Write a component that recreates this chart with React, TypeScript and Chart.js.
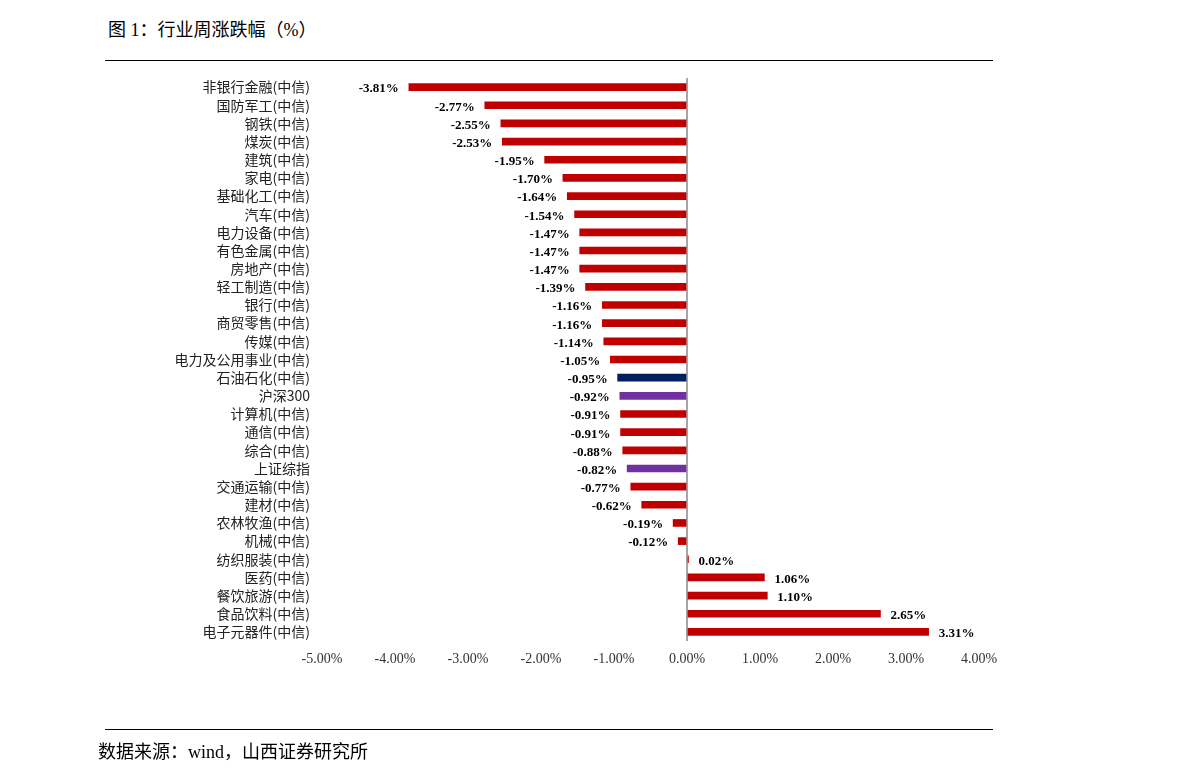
import React, { useEffect, useRef } from "react";
import { Chart, registerables } from "chart.js";

Chart.register(...registerables);

const categories: string[] = [
  "非银行金融(中信)", "国防军工(中信)", "钢铁(中信)", "煤炭(中信)", "建筑(中信)",
  "家电(中信)", "基础化工(中信)", "汽车(中信)", "电力设备(中信)", "有色金属(中信)",
  "房地产(中信)", "轻工制造(中信)", "银行(中信)", "商贸零售(中信)", "传媒(中信)",
  "电力及公用事业(中信)", "石油石化(中信)", "沪深300", "计算机(中信)", "通信(中信)",
  "综合(中信)", "上证综指", "交通运输(中信)", "建材(中信)", "农林牧渔(中信)",
  "机械(中信)", "纺织服装(中信)", "医药(中信)", "餐饮旅游(中信)", "食品饮料(中信)",
  "电子元器件(中信)",
];

const values: number[] = [
  -3.81, -2.77, -2.55, -2.53, -1.95,
  -1.70, -1.64, -1.54, -1.47, -1.47,
  -1.47, -1.39, -1.16, -1.16, -1.14,
  -1.05, -0.95, -0.92, -0.91, -0.91,
  -0.88, -0.82, -0.77, -0.62, -0.19,
  -0.12, 0.02, 1.06, 1.10, 2.65,
  3.31,
];

const xTicks: number[] = [-5, -4, -3, -2, -1, 0, 1, 2, 3, 4];

const RED = "#C00000";
const NAVY = "#002060";
const PURPLE = "#7030A0";

const barColor = (cat: string): string => {
  if (cat.startsWith("石油石化")) return NAVY;
  if (cat === "沪深300" || cat === "上证综指") return PURPLE;
  return RED;
};

const valueLabelPlugin = {
  id: "valueLabels",
  afterDatasetsDraw(chart: any) {
    const ctx = chart.ctx;
    const meta = chart.getDatasetMeta(0);
    ctx.save();
    ctx.font = "bold 13px 'Liberation Serif', 'Times New Roman', serif";
    ctx.fillStyle = "#000";
    ctx.textBaseline = "middle";
    meta.data.forEach((bar: any, i: number) => {
      const v = values[i];
      const txt = v.toFixed(2) + "%";
      if (v < 0) {
        ctx.textAlign = "right";
        ctx.fillText(txt, bar.x - 10, bar.y + 2);
      } else {
        ctx.textAlign = "left";
        ctx.fillText(txt, bar.x + 10, bar.y + 2);
      }
    });
    ctx.restore();
  },
};

function BarChart() {
  const ref = useRef<HTMLCanvasElement | null>(null);
  useEffect(() => {
    if (!ref.current) return;
    const chart = new Chart(ref.current, {
      type: "bar",
      data: {
        labels: categories,
        datasets: [
          {
            data: values,
            backgroundColor: categories.map(barColor),
            barThickness: 7,
            borderWidth: 0,
          },
        ],
      },
      options: {
        indexAxis: "y",
        animation: false,
        responsive: false,
        maintainAspectRatio: false,
        layout: { padding: { left: 0, right: 212, top: 78, bottom: 103 } },
        plugins: {
          legend: { display: false },
          tooltip: { enabled: false },
        },
        scales: {
          x: {
            type: "linear",
            min: -5,
            max: 4,
            afterBuildTicks: (scale: any) => {
              scale.ticks = xTicks.map((v) => ({ value: v }));
            },
            afterFit: (scale: any) => {
              scale.height = 40;
            },
            border: { display: false },
            grid: {
              drawTicks: false,
              color: (c: any) => (c.tick && c.tick.value === 0 ? "#A6A6A6" : "rgba(0,0,0,0)"),
              lineWidth: (c: any) => (c.tick && c.tick.value === 0 ? 2 : 0),
            },
            ticks: {
              padding: 10,
              color: "#333",
              font: { family: "'Liberation Serif', 'Times New Roman', serif", size: 14 },
              callback: (v: any) => Number(v).toFixed(2) + "%",
            },
          },
          y: {
            afterFit: (scale: any) => {
              scale.width = 322;
            },
            border: { display: false },
            grid: { display: false, drawTicks: false },
            ticks: {
              padding: 12,
              color: "#222",
              font: { family: "'Noto Sans CJK SC', sans-serif", size: 14 },
              autoSkip: false,
            },
          },
        },
      },
      plugins: [valueLabelPlugin],
    });
    return () => chart.destroy();
  }, []);
  return (
    <canvas
      ref={ref}
      width={1191}
      height={784}
      style={{ position: "absolute", left: 0, top: 0, width: 1191, height: 784 }}
    />
  );
}

export default function App() {
  const textFont = "'Liberation Serif', 'Noto Sans CJK SC', serif";
  return (
    <div
      style={{
        position: "absolute",
        left: 0,
        top: 0,
        width: 1191,
        height: 784,
        background: "#fff",
        overflow: "hidden",
      }}
    >
      <div
        style={{
          position: "absolute",
          left: 108,
          top: 18,
          fontFamily: textFont,
          fontSize: 18,
          lineHeight: "24px",
          color: "#000",
          whiteSpace: "nowrap",
        }}
      >
        图 1：行业周涨跌幅（%）
      </div>
      <div style={{ position: "absolute", left: 105, top: 60, width: 888, height: 1, background: "#000" }} />
      <BarChart />
      <div style={{ position: "absolute", left: 105, top: 729, width: 888, height: 1, background: "#000" }} />
      <div
        style={{
          position: "absolute",
          left: 98,
          top: 740,
          fontFamily: textFont,
          fontSize: 18,
          lineHeight: "24px",
          color: "#000",
          whiteSpace: "nowrap",
        }}
      >
        数据来源：wind，山西证券研究所
      </div>
    </div>
  );
}
